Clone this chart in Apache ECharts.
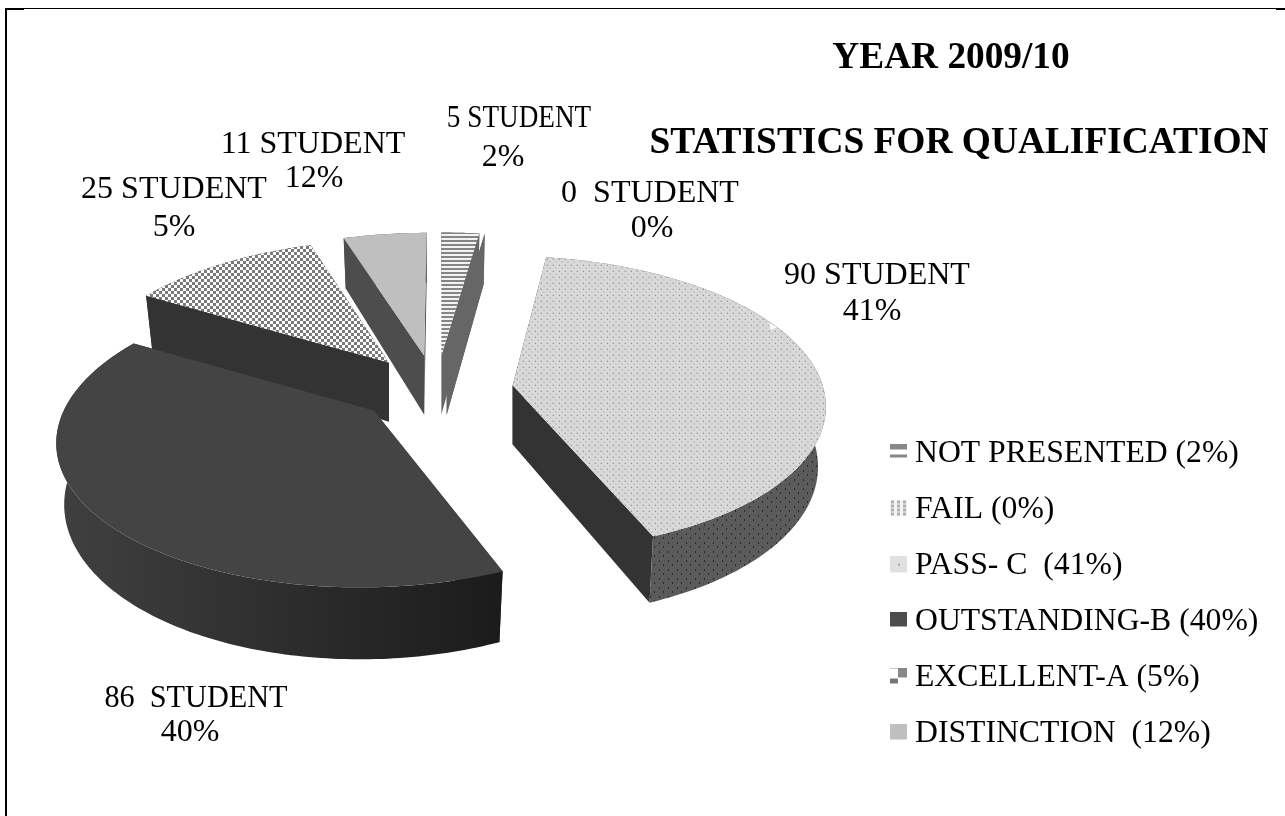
<!DOCTYPE html>
<html>
<head>
<meta charset="utf-8">
<title>Statistics for qualification</title>
<script src="https://cdn.jsdelivr.net/npm/echarts@6/dist/echarts.min.js"></script>
<style>
  html, body { margin: 0; padding: 0; background: #fff; }
  #chart { width: 1285px; height: 816px; }
</style>
</head>
<body>
<div id="chart"></div>
<script>
const titleLines = ["YEAR 2009/10", "STATISTICS FOR QUALIFICATION"];
const categories = ["NOT PRESENTED (2%)", "FAIL (0%)", "PASS- C  (41%)", "OUTSTANDING-B (40%)", "EXCELLENT-A (5%)", "DISTINCTION  (12%)"];
const studentCounts = [5, 0, 90, 86, 25, 11];
const countLabels = ["5 STUDENT", "0  STUDENT", "90 STUDENT", "86  STUDENT", "25 STUDENT", "11 STUDENT"];
const percentLabels = ["2%", "0%", "41%", "40%", "5%", "12%"];

// back slices first so the front ones paint over them
const drawOrder = [0, 1, 5, 4, 2, 3];

// fake 3d view of the pie
const CENTER = [436, 390];
const RADIUS_X = 310;
const RADIUS_Y = 145;
const DEPTH = 59;
const BOTTOM_SHRINK = 0.975;
const EXPLODE = 0.25;

// the original view is not a clean projection, each slice leans a bit
const slicePerspective = [0.18, 0.18, 0.12, 0.18, 0.18, 0.18];
const sliceShear = [0, 0, 0.05, -0.08, -0.04, -0.02];
const sliceNudge = [[0, 0], [0, 0], [0, 0], [-2, -4], [0, 0], [0, 0]];

function makeCanvas(w, h, bg, draw) {
  const c = document.createElement("canvas");
  c.width = w;
  c.height = h;
  const ctx = c.getContext("2d");
  if (bg) {
    ctx.fillStyle = bg;
    ctx.fillRect(0, 0, w, h);
  }
  draw(ctx);
  return c;
}

function makePattern(w, h, bg, draw) {
  return { image: makeCanvas(w, h, bg, draw), repeat: "repeat" };
}

const stripes = makePattern(4, 4, "#f2f2f2", (ctx) => {
  ctx.fillStyle = "#858585";
  ctx.fillRect(0, 0, 4, 2);
});
const checks = makePattern(6, 6, "#ffffff", (ctx) => {
  ctx.fillStyle = "#7a7a7a";
  ctx.fillRect(0, 0, 3, 3);
  ctx.fillRect(3, 3, 3, 3);
});
const passDots = makePattern(6, 6, "#d9d9d9", (ctx) => {
  ctx.fillStyle = "#c8c8c8";
  ctx.fillRect(0, 0, 2, 2);
  ctx.fillRect(3, 3, 2, 2);
  ctx.fillStyle = "#969696";
  ctx.fillRect(1, 1, 1, 1);
});
const passSideDots = makePattern(9, 9, "#5b5b5b", (ctx) => {
  ctx.fillStyle = "#2a2a2a";
  ctx.fillRect(2, 2, 1, 2);
  ctx.fillRect(6, 6, 1, 2);
});

const topFills = [stripes, stripes, passDots, "#444444", checks, "#bfbfbf"];
const cutFills = ["#666666", "#666666", "#333333", "#333333", "#333333", "#4d4d4d"];
const wallFills = ["#666666", "#666666", passSideDots, "#333333", "#333333", "#4d4d4d"];

// legend swatches, 17px wide inside a bigger image so the text and box sit where they should
const legendIcons = [
  (ctx) => {
    ctx.fillStyle = "#888888";
    ctx.fillRect(0, 0, 17, 6);
    ctx.fillRect(0, 11, 17, 3);
  },
  (ctx) => {
    ctx.fillStyle = "#f4f4f4";
    ctx.fillRect(0, 0, 17, 17);
    ctx.fillStyle = "#b0b0b0";
    for (let col = 0; col < 3; col++) {
      for (let row = 0; row < 4; row++) {
        ctx.fillRect(1 + col * 6, 1 + row * 4, 3, 3);
      }
    }
  },
  (ctx) => {
    ctx.fillStyle = "#e0e0e0";
    ctx.fillRect(0, 0, 17, 17);
    ctx.fillStyle = "#a8a8a8";
    ctx.fillRect(8, 8, 2, 2);
  },
  (ctx) => {
    ctx.fillStyle = "#4d4d4d";
    ctx.fillRect(0, 0, 17, 15);
  },
  (ctx) => {
    ctx.fillStyle = "#888888";
    ctx.fillRect(8, 0, 9, 10);
    ctx.fillRect(0, 0, 8, 1);
    ctx.fillStyle = "#777777";
    ctx.fillRect(0, 11, 8, 5);
  },
  (ctx) => {
    ctx.fillStyle = "#bfbfbf";
    ctx.fillRect(0, 0, 17, 16);
  }
];

const total = studentCounts.reduce((a, b) => a + b, 0);

function project(x, z, p) {
  const w = 1 - p * z;
  return [RADIUS_X * x / w, RADIUS_Y * z / w];
}

function buildSlice(index) {
  const before = studentCounts.slice(0, index).reduce((a, b) => a + b, 0);
  const start = before / total * Math.PI * 2;
  const end = (before + studentCounts[index]) / total * Math.PI * 2;
  const mid = (start + end) / 2;
  const p = slicePerspective[index];
  const shift = project(EXPLODE * Math.sin(mid), -EXPLODE * Math.cos(mid), p);
  const apex = [
    CENTER[0] + shift[0] + sliceNudge[index][0],
    CENTER[1] + shift[1] + sliceNudge[index][1]
  ];

  const rim = (a) => {
    const q = project(Math.sin(a), -Math.cos(a), p);
    return [apex[0] + q[0] + sliceShear[index] * q[1], apex[1] + q[1]];
  };
  const drop = (pt, z) => [
    apex[0] + (pt[0] - apex[0]) * BOTTOM_SHRINK,
    pt[1] + DEPTH / (1 - p * z)
  ];
  const rimDown = (a) => drop(rim(a), -Math.cos(a));
  return { start, end, apex, rim, rimDown, apexDown: drop(apex, 0) };
}

function renderSlice(index) {
  const s = buildSlice(index);
  const steps = Math.max(2, Math.ceil((s.end - s.start) * 60));
  const arc = [];
  const arcDown = [];
  for (let i = 0; i <= steps; i++) {
    const a = s.start + (s.end - s.start) * i / steps;
    arc.push(s.rim(a));
    arcDown.push(s.rimDown(a));
  }

  let wallFill = wallFills[index];
  if (index === 3) {
    // the big slice gets darker towards its right end
    wallFill = {
      type: "linear", x: 57, y: 0, x2: 505, y2: 0, global: true,
      colorStops: [{ offset: 0, color: "#404040" }, { offset: 1, color: "#1b1b1b" }]
    };
  }

  const cut = (a) => [s.apex, s.rim(a), s.rimDown(a), s.apexDown];
  return {
    type: "group",
    children: [
      { type: "polygon", shape: { points: cut(s.start) }, style: { fill: cutFills[index] } },
      { type: "polygon", shape: { points: cut(s.end) }, style: { fill: cutFills[index] } },
      { type: "polygon", shape: { points: arc.concat(arcDown.slice().reverse()) }, style: { fill: wallFill } },
      { type: "polygon", shape: { points: [s.apex].concat(arc) }, style: { fill: topFills[index] } }
    ]
  };
}

function textEl(text, x, y, size, bold, squeeze) {
  return {
    type: "text", x, y,
    scaleX: squeeze || 1,
    style: {
      text,
      fill: "#000",
      font: (bold ? "bold " : "") + size + "px 'Liberation Serif'",
      textAlign: "center",
      textVerticalAlign: "middle"
    }
  };
}

const LABEL_SIZE = 32;
const labelSpots = [
  [[519, 119], [503, 158]],
  [[650, 194], [652, 229]],
  [[877, 276], [872, 312]],
  [[196, 699], [190, 733]],
  [[174, 190], [174, 228]],
  [[313, 145], [314, 179]]
];
const labelSqueeze = [0.85, 1, 1, 0.945, 1, 1];

const labelEls = [];
categories.forEach((c, i) => {
  labelEls.push(textEl(countLabels[i], labelSpots[i][0][0], labelSpots[i][0][1], LABEL_SIZE, false, labelSqueeze[i]));
  labelEls.push(textEl(percentLabels[i], labelSpots[i][1][0], labelSpots[i][1][1], LABEL_SIZE, false));
});

const frameEls = [
  { type: "rect", shape: { x: 5, y: 8, width: 1280, height: 1 }, style: { fill: "#000" } },
  { type: "rect", shape: { x: 5, y: 9, width: 19, height: 1 }, style: { fill: "#000" } },
  { type: "rect", shape: { x: 1276, y: 9, width: 9, height: 1 }, style: { fill: "#000" } },
  { type: "rect", shape: { x: 5, y: 8, width: 2, height: 808 }, style: { fill: "#000" } }
];

const chart = echarts.init(document.getElementById("chart"), null, { renderer: "canvas" });
chart.setOption({
  animation: false,
  backgroundColor: "#fff",
  legend: {
    orient: "vertical",
    left: 890,
    top: 438,
    padding: 0,
    itemWidth: 20,
    itemHeight: 21,
    itemGap: 24,
    selectedMode: false,
    textStyle: { fontFamily: "Liberation Serif", fontSize: 31.7, color: "#000" },
    data: categories.map((name, i) => ({
      name,
      icon: "image://" + makeCanvas(20, 21, null, legendIcons[i]).toDataURL()
    }))
  },
  graphic: {
    elements: frameEls.concat(labelEls, [
      textEl(titleLines[0], 951, 58, 37.3, true),
      textEl(titleLines[1], 959, 143, 37.4, true),
      // little white nick on the pass slice rim
      { type: "polygon", z: 100, shape: { points: [[769, 323], [777, 327], [771, 330]] }, style: { fill: "#fff" } }
    ])
  },
  series: drawOrder.map((i) => ({
    type: "custom",
    name: categories[i],
    coordinateSystem: "none",
    silent: true,
    data: [[studentCounts[i]]],
    renderItem: () => renderSlice(i)
  }))
});
</script>
</body>
</html>
